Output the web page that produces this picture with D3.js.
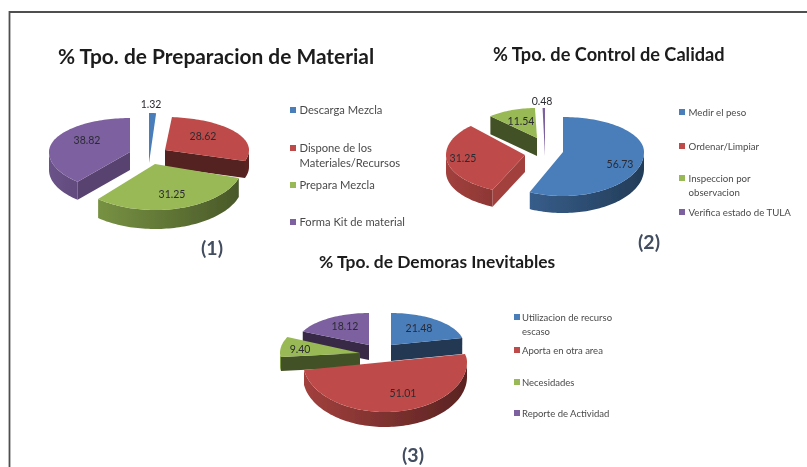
<!DOCTYPE html>
<html><head><meta charset="utf-8">
<script src="https://cdn.jsdelivr.net/npm/d3@7/dist/d3.min.js"></script>
<style>html,body{margin:0;padding:0;background:#fff}svg{display:block}</style>
</head><body><div id="c"></div>
<script>
// ---- data ----
const titles = ["% Tpo. de Preparacion de Material", "% Tpo. de Control de Calidad", "% Tpo. de Demoras Inevitables"];
const captions = ["(1)", "(2)", "(3)"];
const categories1 = [["Descarga Mezcla"], ["Dispone de los", "Materiales/Recursos"], ["Prepara Mezcla"], ["Forma Kit de material"]];
const values1 = [1.32, 28.62, 31.25, 38.82];
const categories2 = [["Medir el peso"], ["Ordenar/Limpiar"], ["Inspeccion por", "observacion"], ["Verifica estado de TULA"]];
const values2 = [56.73, 31.25, 11.54, 0.48];
const categories3 = [["Utilizacion de recurso", "escaso"], ["Aporta en otra area"], ["Necesidades"], ["Reporte de Actividad"]];
const values3 = [21.48, 51.01, 9.40, 18.12];
const palette = ["#4a7ebb", "#be4b48", "#98b954", "#7d60a0"];

// ---- layout (exploded wedges are each placed and shaped separately) ----
const layouts = [
  { title:[58,64,20.9], caption:[212,255], legendX:290, legendY:[110,148,185,222], legendFont:11.2, lineGap:15,
    apex:[[149,163],[165,150],[155,164],[130,152]],
    rx:[86,84,88,81], ryBack:[50,33,46,34], ryFront:[46,36,46,39], depth:[0,17,19,18],
    label:[[151,104],[203,136],[172,194],[87,140]] },
  { title:[493,61,18.2], caption:[649,249], legendX:679, legendY:[112,146,178,212], legendFont:9.7, lineGap:14,
    apex:[[563,152],[525,155],[537,138],[545,156]],
    rx:[81,79,68,81], ryBack:[35,40,30,48], ryFront:[44,38,30,48], depth:[17,17,18,0],
    label:[[620,164],[463,158],[521,121],[542,101]] },
  { title:[319,268,17.4], caption:[413,462], legendX:514, legendY:[317,350,382,413], legendFont:9.5, lineGap:14,
    apex:[[391,345],[385,362],[360,353],[369,345]],
    rx:[73,82,80,73], ryBack:[32,36,38,32], ryFront:[32,50,25,32], depth:[16,15,14,15],
    label:[[419,328],[403,393],[300,349],[345,326]] }
];
const allValues = [values1, values2, values3];
const allCategories = [categories1, categories2, categories3];

const W = 807, H = 467, FONT = "Lato, 'Open Sans', sans-serif";
const color = d3.scaleOrdinal().domain(d3.range(4)).range(palette);
const pieGen = d3.pie().sort(null).value(d => d);
const outline = d3.line();

const svg = d3.select("#c").append("svg").attr("width", W).attr("height", H);
const defs = svg.append("defs");
defs.append("filter").attr("id", "soft").attr("x", 0).attr("y", 0).attr("width", 1).attr("height", 1)
  .append("feGaussianBlur").attr("stdDeviation", 0.45);
const root = svg.append("g").attr("filter", "url(#soft)");
root.append("rect").attr("width", W).attr("height", H).attr("fill", "#fff");
root.append("path").attr("d", `M9.5 ${H}V12H${W}`).attr("fill", "none").attr("stroke", "#505050").attr("stroke-width", 1.8);

allValues.forEach((values, p) => {
  const L = layouts[p];
  const g = root.append("g");
  const arcs = pieGen(values).map((a, i) => ({ ...a, i }));

  // one projection per wedge: angle + height -> picture position
  const projector = i => (t, h = 0) => {
    const z = -Math.cos(t);
    return [L.apex[i][0] + L.rx[i] * Math.sin(t),
            L.apex[i][1] + (z > 0 ? L.ryFront[i] : L.ryBack[i]) * z + h];
  };
  const sampleArc = (i, a0, a1, h) => {
    const pr = projector(i), n = Math.max(2, Math.ceil((a1 - a0) / 0.03));
    return d3.range(n + 1).map(k => pr(a0 + (a1 - a0) * k / n, h));
  };

  // painter's order: back wedges first
  const order = arcs.slice().sort((a, b) =>
    -Math.cos((a.startAngle + a.endAngle) / 2) - -Math.cos((b.startAngle + b.endAngle) / 2));

  order.forEach(a => {
    const i = a.i, c = color(i), pr = projector(i), d = L.depth[i], ap = L.apex[i];
    // outer wall on the half of the rim that faces the viewer
    const w0 = Math.max(a.startAngle, Math.PI / 2), w1 = Math.min(a.endAngle, 3 * Math.PI / 2);
    if (w1 > w0 && d > 0) {
      const id = `wall${p}${i}`;
      const gr = defs.append("linearGradient").attr("id", id).attr("gradientUnits", "userSpaceOnUse")
        .attr("x1", ap[0] - L.rx[i]).attr("x2", ap[0] + L.rx[i]).attr("y1", 0).attr("y2", 0);
      gr.append("stop").attr("offset", 0).attr("stop-color", d3.rgb(c).darker(0.45));
      gr.append("stop").attr("offset", 1).attr("stop-color", d3.rgb(c).darker(2.1));
      g.append("path")
        .attr("d", outline([...sampleArc(i, w0, w1, 0), ...sampleArc(i, w0, w1, d).reverse()]) + "Z")
        .attr("fill", `url(#${id})`);
    }
    // cut faces that turn towards the viewer
    [[a.startAngle, a.startAngle - Math.PI / 2], [a.endAngle, a.endAngle + Math.PI / 2]].forEach(([t, nrm]) => {
      if (-Math.cos(nrm) <= 0 || d === 0) return;
      const rim = pr(t), nx = Math.sin(nrm);
      const shade = nx < 0.5 ? 2.3 : (nx > 0.85 ? 0.45 : 1.0);
      g.append("path")
        .attr("d", outline([ap, rim, [rim[0], rim[1] + d], [ap[0], ap[1] + d]]) + "Z")
        .attr("fill", d3.rgb(c).darker(shade));
    });
    // top surface
    g.append("path")
      .attr("d", outline([ap, ...sampleArc(i, a.startAngle, a.endAngle, 0)]) + "Z")
      .attr("fill", c);
  });

  // value labels
  g.selectAll("text.val").data(arcs).join("text").attr("class", "val")
    .attr("x", d => L.label[d.i][0]).attr("y", d => L.label[d.i][1] + 3.5)
    .attr("text-anchor", "middle").attr("font-family", FONT).attr("font-size", 10.5)
    .attr("fill", "#2b2b33").text(d => d.value.toFixed(2));

  // title and caption
  g.append("text").attr("x", L.title[0]).attr("y", L.title[1]).attr("font-family", FONT)
    .attr("font-weight", 700).attr("font-size", L.title[2]).attr("fill", "#1c1c1c").text(titles[p]);
  g.append("text").attr("x", L.caption[0]).attr("y", L.caption[1]).attr("text-anchor", "middle")
    .attr("font-family", FONT).attr("font-weight", 700).attr("font-size", 19.5)
    .attr("fill", "#434d60").text(captions[p]);

  // legend
  allCategories[p].forEach((lines, i) => {
    const y = L.legendY[i];
    g.append("rect").attr("x", L.legendX).attr("y", y - 3).attr("width", 6).attr("height", 6).attr("fill", color(i));
    lines.forEach((t, k) => {
      g.append("text").attr("x", L.legendX + (p === 2 ? 8 : 9.5)).attr("y", y + 3.5 + k * L.lineGap)
        .attr("font-family", FONT).attr("font-size", L.legendFont).attr("fill", "#4a4a4a").text(t);
    });
  });
});
</script></body></html>
